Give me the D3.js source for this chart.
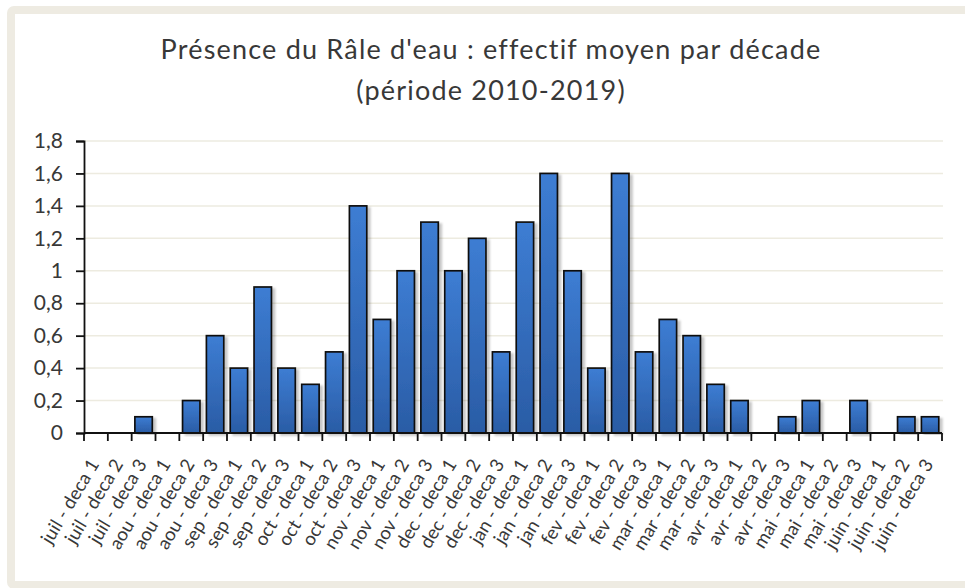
<!DOCTYPE html>
<html>
<head>
<meta charset="utf-8">
<script src="https://cdn.jsdelivr.net/npm/d3@7"></script>
<style>
html,body{margin:0;padding:0;background:#fff;}
svg{display:block;}
</style>
</head>
<body>
<svg id="chart" width="965" height="588"></svg>
<script>
const categories = [
  "juil - deca 1","juil - deca 2","juil - deca 3",
  "aou - deca 1","aou - deca 2","aou - deca 3",
  "sep - deca 1","sep - deca 2","sep - deca 3",
  "oct - deca 1","oct - deca 2","oct - deca 3",
  "nov - deca 1","nov - deca 2","nov - deca 3",
  "dec - deca 1","dec - deca 2","dec - deca 3",
  "jan - deca 1","jan - deca 2","jan - deca 3",
  "fev - deca 1","fev - deca 2","fev - deca 3",
  "mar - deca 1","mar - deca 2","mar - deca 3",
  "avr - deca 1","avr - deca 2","avr - deca 3",
  "mai - deca 1","mai - deca 2","mai - deca 3",
  "juin - deca 1","juin - deca 2","juin - deca 3"
];
const values = [
  0, 0, 0.1,
  0, 0.2, 0.6,
  0.4, 0.9, 0.4,
  0.3, 0.5, 1.4,
  0.7, 1.0, 1.3,
  1.0, 1.2, 0.5,
  1.3, 1.6, 1.0,
  0.4, 1.6, 0.5,
  0.7, 0.6, 0.3,
  0.2, 0, 0.1,
  0.2, 0, 0.2,
  0, 0.1, 0.1
];
const yTicks = [0, 0.2, 0.4, 0.6, 0.8, 1, 1.2, 1.4, 1.6, 1.8];
const titleLines = ["Présence du Râle d'eau : effectif moyen par décade", "(période 2010-2019)"];

const svg = d3.select("#chart");
const FONT = "Lato, 'Open Sans', sans-serif";
const TEXT = "#383838";

// frame
svg.append("rect").attr("x", 0).attr("y", 0).attr("width", 965).attr("height", 588).attr("fill", "#fff");
svg.append("rect").attr("x", 11).attr("y", 10).attr("width", 980).attr("height", 575)
  .attr("fill", "#fff").attr("stroke", "#EEEBE2").attr("stroke-width", 8).attr("rx", 3);

const defs = svg.append("defs");
const grad = defs.append("linearGradient").attr("id", "barGrad").attr("x1", 0).attr("y1", 0).attr("x2", 0).attr("y2", 1);
grad.append("stop").attr("offset", "0%").attr("stop-color", "#3D7DD3");
grad.append("stop").attr("offset", "100%").attr("stop-color", "#2A5CA5");
const filt = defs.append("filter").attr("id", "shadow").attr("x", "-20%").attr("y", "-5%").attr("width", "160%").attr("height", "115%");
filt.append("feDropShadow").attr("dx", 3).attr("dy", 2).attr("stdDeviation", 1.2)
  .attr("flood-color", "#000").attr("flood-opacity", 0.22);

const pLeft = 84, pRight = 942, pTop = 141, pBottom = 433;

const x = d3.scaleBand().domain(categories).range([pLeft, pRight]).paddingInner(0.27).paddingOuter(0.135);
const xb = d3.scaleBand().domain(categories).range([pLeft, pRight]);
const y = d3.scaleLinear().domain([0, 1.8]).range([pBottom, pTop]);

// gridlines
svg.append("g").selectAll("line").data(yTicks.filter(d => d > 0)).join("line")
  .attr("x1", pLeft).attr("x2", 943)
  .attr("y1", d => y(d)).attr("y2", d => y(d))
  .attr("stroke", "#EDEBE0").attr("stroke-width", 1.5);

// title
svg.append("g").selectAll("text").data(titleLines).join("text")
  .attr("x", 491).attr("y", (d, i) => 59 + i * 41)
  .attr("text-anchor", "middle")
  .attr("font-family", FONT).attr("font-size", 27).attr("letter-spacing", 1.2).attr("fill", TEXT)
  .text(d => d);

// bars
svg.append("g").selectAll("rect").data(values).join("rect")
  .attr("x", (d, i) => x(categories[i]))
  .attr("width", x.bandwidth())
  .attr("y", d => y(d))
  .attr("height", d => y(0) - y(d))
  .attr("fill", "url(#barGrad)")
  .attr("stroke", "#111").attr("stroke-width", 1.7)
  .attr("filter", "url(#shadow)")
  .style("display", d => d > 0 ? null : "none");

// y axis
const yAxis = d3.axisLeft(y).tickValues(yTicks).tickSize(8).tickPadding(13)
  .tickFormat(d => d3.format("~g")(d).replace(".", ","));
const gy = svg.append("g").attr("transform", `translate(${pLeft},0)`).call(yAxis);
gy.select(".domain").attr("stroke", "#111").attr("stroke-width", 1.8);
gy.selectAll(".tick line").attr("stroke", "#111").attr("stroke-width", 1.8);
gy.selectAll(".tick text").attr("font-family", FONT).attr("font-size", 21).attr("fill", TEXT);

// x axis line
svg.append("line").attr("x1", pLeft).attr("x2", pRight).attr("y1", pBottom).attr("y2", pBottom)
  .attr("stroke", "#111").attr("stroke-width", 1.8);
// x ticks at band boundaries
const bounds = categories.map(c => xb(c)).concat([pRight]);
svg.append("g").selectAll("line").data(bounds).join("line")
  .attr("x1", d => d).attr("x2", d => d).attr("y1", pBottom).attr("y2", pBottom + 8)
  .attr("stroke", "#111").attr("stroke-width", 1.8);

// x labels
svg.append("g").selectAll("text").data(categories).join("text")
  .attr("transform", d => `translate(${xb(d) + xb.bandwidth() / 2 + 4},${pBottom + 31}) rotate(-59)`)
  .attr("text-anchor", "end")
  .attr("font-family", FONT).attr("font-size", 18.5).attr("letter-spacing", 0.1).attr("fill", TEXT)
  .text(d => d);
</script>
</body>
</html>
